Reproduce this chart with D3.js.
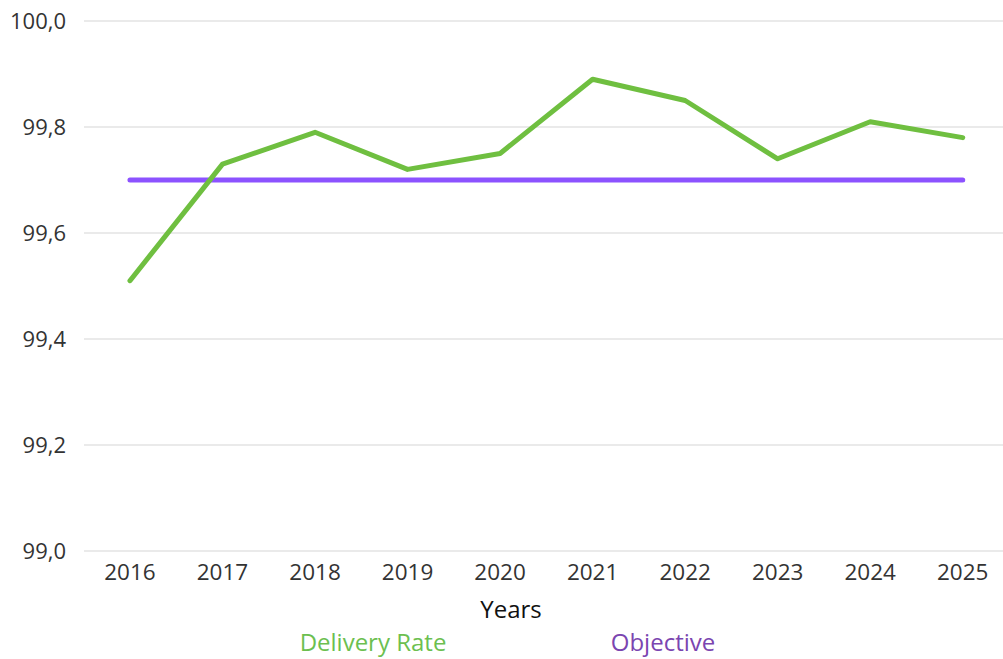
<!DOCTYPE html>
<html><head><meta charset="utf-8">
<script src="https://cdn.jsdelivr.net/npm/d3@7"></script>
<style>body{margin:0;background:#fff;} text{font-family:"Open Sans","Noto Sans",sans-serif;}</style>
</head><body>
<svg id="c" width="1003" height="659"></svg>
<script>
const years = ["2016","2017","2018","2019","2020","2021","2022","2023","2024","2025"];
const deliveryRate = [99.51,99.73,99.79,99.72,99.75,99.89,99.85,99.74,99.81,99.78];
const objective = [99.7,99.7,99.7,99.7,99.7,99.7,99.7,99.7,99.7,99.7];
const yTicks = [99.0,99.2,99.4,99.6,99.8,100.0];

const svg = d3.select("#c");
const x = d3.scaleBand().domain(years).range([83.7, 1009]);
const y = d3.scaleLinear().domain([99, 100]).range([551, 21]);
const cx = d => x(d) + x.bandwidth()/2;

svg.append("g").selectAll("line").data(yTicks).join("line")
  .attr("x1", 84).attr("x2", 1003)
  .attr("y1", d => y(d)).attr("y2", d => y(d))
  .attr("stroke", "#e3e3e3").attr("stroke-width", 1.5);

svg.append("g").selectAll("text").data(yTicks).join("text")
  .attr("x", 66).attr("y", d => y(d)).attr("dy", "0.35em")
  .attr("text-anchor", "end").attr("font-size", 22).attr("fill", "#333")
  .text(d => d.toFixed(1).replace(".", ","));

svg.append("g").selectAll("text").data(years).join("text")
  .attr("x", d => cx(d)).attr("y", 572).attr("dy", "0.35em")
  .attr("text-anchor", "middle").attr("font-size", 22.5).attr("fill", "#333")
  .text(d => d);

svg.append("text").attr("x", 511).attr("y", 610).attr("dy", "0.35em")
  .attr("text-anchor", "middle").attr("font-size", 24).attr("fill", "#111").text("Years");

const line = d3.line().x((d,i) => cx(years[i])).y(d => y(d));
svg.append("path").datum(objective).attr("d", line)
  .attr("fill", "none").attr("stroke", "#8c52ff").attr("stroke-width", 5).attr("stroke-linecap", "round");
svg.append("path").datum(deliveryRate).attr("d", line)
  .attr("fill", "none").attr("stroke", "#6fbf40").attr("stroke-width", 5).attr("stroke-linejoin", "round").attr("stroke-linecap", "round");

const legend = [{name:"Delivery Rate", color:"#6cbf50", x:373},{name:"Objective", color:"#7b45b0", x:663}];
svg.append("g").selectAll("text").data(legend).join("text")
  .attr("x", d => d.x).attr("y", 643).attr("dy", "0.35em")
  .attr("text-anchor", "middle").attr("font-size", 24).attr("fill", d => d.color)
  .text(d => d.name);
</script>
</body></html>
